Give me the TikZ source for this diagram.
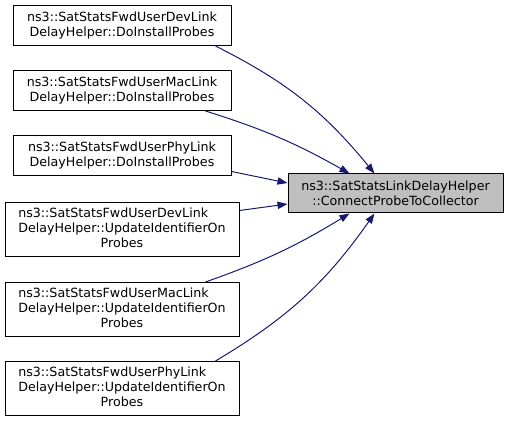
\documentclass[tikz,border=0pt]{standalone}
\usepackage{fontspec}
\setmainfont{DejaVu Sans}
\usepackage{tikz}
\usetikzlibrary{positioning}
\usetikzlibrary{calc,arrows.meta}
\definecolor{edgeblue}{HTML}{191970}
\definecolor{focusgray}{HTML}{BFBFBF}

\begin{document}
\begin{tikzpicture}[x=0.75pt,y=-0.75pt,
    fn/.style={draw=black, line width=0.75pt, fill=white, align=center, inner sep=2pt,
      font=\fontsize{9.5}{11.25}\selectfont},
    shortfn/.style={fn, minimum width=163.5pt, minimum height=30pt},
    longfn/.style={fn, minimum width=175.5pt, minimum height=40.5pt},
    edge/.style={draw=edgeblue, line width=0.75pt, -{Triangle[length=7.5pt,width=5.5pt]}}]
    \useasboundingbox (0,0) rectangle (508,423);

    \node(devdo) [shortfn] at (122,25.5) {ns3::SatStatsFwdUserDevLink\\DelayHelper::DoInstallProbes};
    \node(macdo) [shortfn, below=18pt of devdo] {ns3::SatStatsFwdUserMacLink\\DelayHelper::DoInstallProbes};
    \node(phydo) [shortfn, below=18pt of macdo] {ns3::SatStatsFwdUserPhyLink\\DelayHelper::DoInstallProbes};

    \node(devup) [longfn, below=19.5pt of phydo] {\begin{tabular}{@{}l@{}}ns3::SatStatsFwdUserDevLink\\DelayHelper::UpdateIdentifierOn\\\multicolumn{1}{@{}c@{}}{Probes}\end{tabular}};
    \node(macup) [longfn, below=18.75pt of devup] {\begin{tabular}{@{}l@{}}ns3::SatStatsFwdUserMacLink\\DelayHelper::UpdateIdentifierOn\\\multicolumn{1}{@{}c@{}}{Probes}\end{tabular}};
    \node(phyup) [longfn, below=18pt of macup] {\begin{tabular}{@{}l@{}}ns3::SatStatsFwdUserPhyLink\\DelayHelper::UpdateIdentifierOn\\\multicolumn{1}{@{}c@{}}{Probes}\end{tabular}};

    \node(connect) [fn, fill=focusgray, minimum width=161.25pt, minimum height=29.25pt] at (395.5,193.5)
      {ns3::SatStatsLinkDelayHelper\\::ConnectProbeToCollector};

    \draw[edge] ($(devdo.south east)+(-16,0)$) to[bend left=12] ($(connect.north west)+(87,0)$);
    \draw[edge] ($(macdo.south east)+(-26,0)$) to[bend left=6] ($(connect.north west)+(62,0)$);
    \draw[edge] ($(phydo.east)+(0,16)$) -- ($(connect.west)+(0,-10.5)$);
    \draw[edge] ($(devup.east)+(0,-19)$) -- ($(connect.west)+(0,10.5)$);
    \draw[edge] ($(macup.north east)+(-34,0)$) to[bend right=6] ($(connect.south west)+(62,0)$);
    \draw[edge] ($(phyup.north east)+(-24,0)$) to[bend right=12] ($(connect.south west)+(87,0)$);
  \end{tikzpicture}
\end{document}
